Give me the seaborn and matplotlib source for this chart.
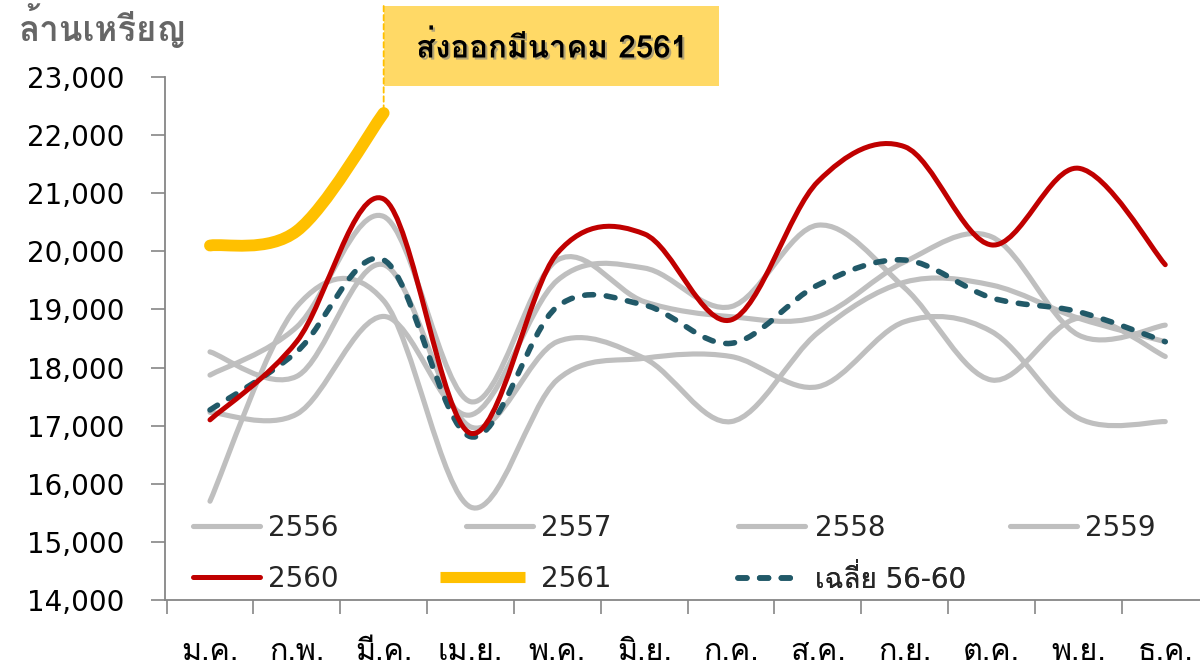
import matplotlib
matplotlib.use("Agg")
import numpy as np
import pandas as pd
import seaborn as sns
import matplotlib.pyplot as plt
from matplotlib.path import Path
from matplotlib.patches import PathPatch, Rectangle
from matplotlib.lines import Line2D
from matplotlib import font_manager as fm, patheffects as pe, transforms as mtransforms

# ---------------- data ----------------
months = ["ม.ค.", "ก.พ.", "มี.ค.", "เม.ย.", "พ.ค.", "มิ.ย.",
          "ก.ค.", "ส.ค.", "ก.ย.", "ต.ค.", "พ.ย.", "ธ.ค."]
y2556 = [15700, 19050, 19150, 15600, 17790, 18160, 18190, 17670, 18790, 18620, 17130, 17070]
y2557 = [18270, 17850, 19770, 16980, 18445, 18160, 17070, 18600, 19470, 19420, 18850, 18445]
y2558 = [17870, 18700, 20600, 17413, 19850, 19134, 18875, 18875, 19820, 20250, 18560, 18730]
y2559 = [17230, 17200, 18880, 17184, 19500, 19713, 19048, 20450, 19370, 17786, 18850, 18190]
y2560 = [17100, 18450, 20900, 16870, 19970, 20300, 18820, 21200, 21800, 20110, 21430, 19770]
y2561 = [20100, 20350, 22380]
avg_56_60 = [17270, 18273, 19851, 16811, 19050, 19077, 18417, 19420, 19850, 19200, 18960, 18445]
series_labels = ["2556", "2557", "2558", "2559", "2560", "2561", "เฉลี่ย 56-60"]
title_text = "ส่งออกมีนาคม 2561"
unit_text = "ล้านเหรียญ"
yticks = list(range(14000, 23001, 1000))

# ---------------- style ----------------
sns.set_theme(style="white")
avail = {f.name for f in fm.fontManager.ttflist}


def fams(*names):
    out = [n for n in names if n in avail]
    return out if out else ["DejaVu Sans"]


THAI = fams("Loma", "Tahoma", "Noto Sans Thai Looped", "Noto Sans Thai", "Garuda", "Sarabun")
plt.rcParams["font.family"] = ["DejaVu Sans"] + THAI

GREY = "#BFBFBF"
RED = "#C00000"
GOLD = "#FFC000"
TEAL = "#215968"
AXC = "#868686"

W, H = 1200, 665
fig = plt.figure(figsize=(W / 100, H / 100), dpi=100)
ax = fig.add_axes([165 / W, 1 - 600 / H, 1 - 165 / W, (600 - 77) / H])
ax.set_xlim(-0.518, 11.40)
ax.set_ylim(14000, 23000)


def smooth_path(vals):
    xs = np.arange(len(vals), dtype=float)
    ys = np.asarray(vals, dtype=float)
    n = len(xs)
    verts = [(xs[0], ys[0])]
    codes = [Path.MOVETO]
    for i in range(n - 1):
        a = i - 1 if i > 0 else i
        d = i + 2 if i + 2 < n else i + 1
        c1 = (xs[i] + (xs[i + 1] - xs[a]) / 6, ys[i] + (ys[i + 1] - ys[a]) / 6)
        c2 = (xs[i + 1] - (xs[d] - xs[i]) / 6, ys[i + 1] - (ys[d] - ys[i]) / 6)
        verts += [c1, c2, (xs[i + 1], ys[i + 1])]
        codes += [Path.CURVE4] * 3
    return Path(verts, codes)


def draw(vals, color, lw, z, dashed=False):
    p = PathPatch(smooth_path(vals), fill=False, edgecolor=color, lw=lw,
                  capstyle="round", joinstyle="round", zorder=z)
    if dashed:
        p.set_linestyle((0, (1.6, 2.3)))
    ax.add_patch(p)


for s in (y2556, y2557, y2558, y2559):
    draw(s, GREY, 3.7, 2)
draw(avg_56_60, TEAL, 4.0, 3, dashed=True)
draw(y2560, RED, 3.6, 4)
draw(y2561, GOLD, 8.5, 5)

# ---------------- axes ----------------
for sp in ("top", "right"):
    ax.spines[sp].set_visible(False)
for sp in ("left", "bottom"):
    ax.spines[sp].set_color(AXC)
    ax.spines[sp].set_linewidth(1.3)

ax.set_yticks(yticks)
ax.set_yticklabels([f"{v:,}" for v in yticks])
ax.tick_params(axis="y", length=10, width=1.2, color=AXC, labelsize=20,
               pad=19, labelcolor="black", left=True, direction="out")

major_x = np.arange(-0.5, 11, 1.0)
ax.set_xticks(major_x)
ax.set_xticklabels([""] * len(major_x))
ax.set_xticks(np.arange(len(months)), minor=True)
ax.set_xticklabels(months, minor=True)
ax.tick_params(axis="x", which="major", length=10, width=1.2, color=AXC,
               direction="out", bottom=True)
ax.tick_params(axis="x", which="minor", length=0, pad=27, labelsize=22,
               labelcolor="black", bottom=True)
for lbl in ax.get_xticklabels(minor=True):
    lbl.set_fontfamily(THAI + ["DejaVu Sans"])
ax.grid(False)

# ---------------- legend ----------------
FS = 20
EM = FS * 100 / 72
handles = [
    Line2D([], [], color=GREY, lw=3.7, solid_capstyle="round"),
    Line2D([], [], color=GREY, lw=3.7, solid_capstyle="round"),
    Line2D([], [], color=GREY, lw=3.7, solid_capstyle="round"),
    Line2D([], [], color=GREY, lw=3.7, solid_capstyle="round"),
    Line2D([], [], color=RED, lw=3.6, solid_capstyle="round"),
    Line2D([], [], color=GOLD, lw=8.0, solid_capstyle="butt"),
    Line2D([], [], color=TEAL, lw=4.0, dash_capstyle="round", linestyle=(0, (1.6, 2.3))),
]
# (handle start px, row centre px, handle length px, text pad px)
leg_pos = [(193, 528, 67, 8), (466, 528, 67, 8), (738, 528, 67, 10), (1010, 528, 67, 8),
           (193, 579, 67, 8), (440, 579, 85, 16), (738, 579, 62, 15)]
for h, lab, (xp, yp, hl, tp) in zip(handles, series_labels, leg_pos):
    leg = ax.legend([h], [lab], loc="center left",
                    bbox_to_anchor=(xp / W, 1 - yp / H), bbox_transform=fig.transFigure,
                    frameon=False, handlelength=hl / EM, handletextpad=tp / EM,
                    borderpad=0, borderaxespad=0,
                    prop={"family": ["DejaVu Sans"] + THAI, "size": FS})
    ax.add_artist(leg)

# ---------------- annotation box ----------------
blend = mtransforms.blended_transform_factory(ax.transData, fig.transFigure)
box = Rectangle((2, 1 - 86 / H), (720 - 385) / 86.82, 80 / H, transform=blend,
                facecolor="#FFD966", edgecolor="none", clip_on=False, zorder=1)
ax.add_patch(box)
ax.annotate("", xy=(2, y2561[-1]), xycoords="data",
            xytext=(2, 1 - 6 / H), textcoords=("data", "figure fraction"),
            arrowprops=dict(arrowstyle="-", color=GOLD, lw=1.3, linestyle=(0, (3, 2)),
                            shrinkA=0, shrinkB=0), zorder=1.5, annotation_clip=False)
fig.text(552 / W, 1 - 47 / H, title_text, ha="center", va="center", fontsize=22.5,
         fontweight="bold", color="black", family=THAI + ["DejaVu Sans"],
         path_effects=[pe.withSimplePatchShadow(offset=(1.5, -1.5), shadow_rgbFace="#7f7f7f", alpha=0.6)])

fig.text(19 / W, 1 - 25 / H, unit_text, ha="left", va="center", fontsize=25,
         fontweight="bold", color="#666666", family=THAI + ["DejaVu Sans"])

fig.savefig("out.png", dpi=100, facecolor="white")
